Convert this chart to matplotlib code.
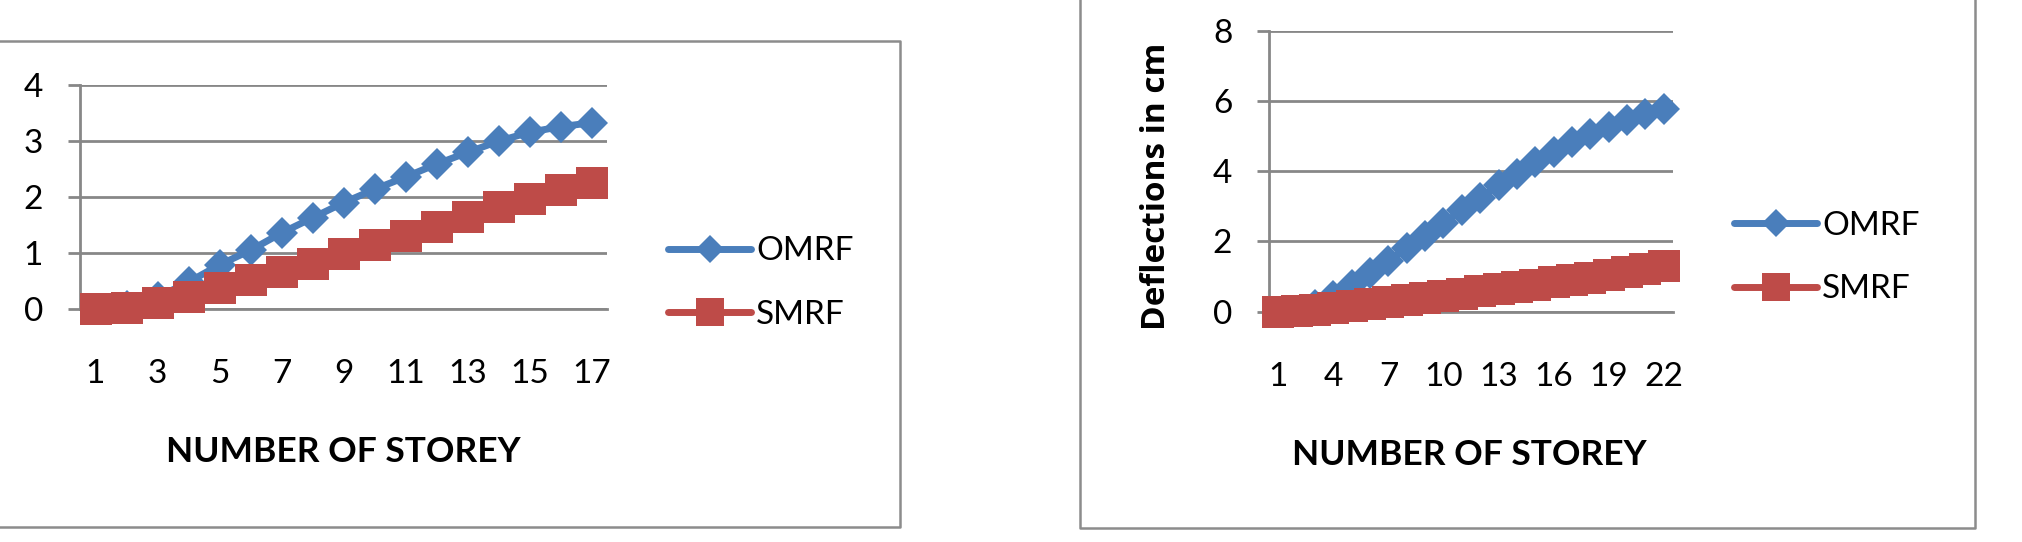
import matplotlib
matplotlib.use("Agg")
import matplotlib.pyplot as plt
from matplotlib.lines import Line2D

# data
storey_a = list(range(1, 18))
omrf_a = [0.0, 0.05, 0.21, 0.48, 0.79, 1.05, 1.36, 1.63, 1.90, 2.14, 2.36, 2.59, 2.80, 3.00, 3.16, 3.26, 3.33]
smrf_a = [0.0, 0.02, 0.10, 0.22, 0.37, 0.52, 0.66, 0.80, 0.98, 1.14, 1.31, 1.47, 1.65, 1.83, 1.97, 2.12, 2.26]
ticks_a = [1, 3, 5, 7, 9, 11, 13, 15, 17]

storey_b = list(range(1, 23))
omrf_b = [0.0, 0.03, 0.18, 0.45, 0.76, 1.10, 1.45, 1.80, 2.15, 2.52, 2.88, 3.24, 3.60, 3.93, 4.25, 4.55, 4.82, 5.06, 5.27, 5.46, 5.62, 5.77]
smrf_b = [0.0, 0.01, 0.05, 0.10, 0.16, 0.21, 0.26, 0.32, 0.38, 0.45, 0.51, 0.58, 0.64, 0.70, 0.77, 0.83, 0.90, 0.97, 1.05, 1.13, 1.20, 1.29]
ticks_b = [1, 4, 7, 10, 13, 16, 19, 22]

series_names = ["OMRF", "SMRF"]
BLUE = "#4A7EBB"
RED = "#BE4B48"
GRID = "#878787"

plt.rcParams['font.family'] = ['Lato', 'DejaVu Sans']

W, H = 2022, 542
fig = plt.figure(figsize=(W / 100, H / 100), dpi=100)


def fx(px):
    return px / W


def fy(py):
    return 1 - py / H


def draw(ax, x, omrf, smrf, ticks, ymax, ystep):
    ax.plot(x, omrf, color=BLUE, lw=5, marker='D', ms=16, mew=0,
            solid_capstyle='round', clip_on=False, zorder=3, label=series_names[0])
    ax.plot(x, smrf, color=RED, lw=5, marker='s', ms=22.5, mew=0,
            solid_capstyle='round', clip_on=False, zorder=4, label=series_names[1])
    ax.set_xlim(0.5, len(x) + 0.5)
    ax.set_ylim(0, ymax)
    ax.set_yticks(range(0, ymax + 1, ystep))
    ax.set_xticks(ticks)
    ax.set_xticklabels([str(t) for t in ticks])
    for s in ['top', 'right']:
        ax.spines[s].set_visible(False)
    for s in ['left', 'bottom']:
        ax.spines[s].set_color(GRID)
        ax.spines[s].set_linewidth(2)
    ax.yaxis.grid(True, color=GRID, lw=2)
    ax.set_axisbelow(True)
    ax.tick_params(axis='y', length=8.6, width=2, color=GRID, pad=18, labelsize=24)
    ax.tick_params(axis='x', length=0, pad=36, labelsize=24)


# left chart
ax1 = fig.add_axes([fx(80), fy(309), fx(607 - 80), (309 - 85.3) / H])
draw(ax1, storey_a, omrf_a, smrf_a, ticks_a, 4, 1)
ax1.legend(loc='center left', bbox_to_anchor=(fx(668), fy(283)),
           bbox_transform=fig.transFigure, frameon=False, fontsize=24,
           handlelength=2.5, handletextpad=0.15, labelspacing=1.0,
           borderpad=0, borderaxespad=0, markerscale=0.87)
fig.text(fx(343), fy(452.5), "NUMBER OF STOREY", ha='center', va='center',
         fontsize=25.5, fontweight='bold')

# right chart
ax2 = fig.add_axes([fx(1269.3), fy(311.6), fx(1672.7 - 1269.3), (311.6 - 30.7) / H])
draw(ax2, storey_b, omrf_b, smrf_b, ticks_b, 8, 2)
ax2.legend(loc='center left', bbox_to_anchor=(fx(1734), fy(257.5)),
           bbox_transform=fig.transFigure, frameon=False, fontsize=24,
           handlelength=2.5, handletextpad=0.15, labelspacing=1.0,
           borderpad=0, borderaxespad=0, markerscale=0.87)
fig.text(fx(1469.5), fy(455), "NUMBER OF STOREY", ha='center', va='center',
         fontsize=25.5, fontweight='bold')
fig.text(fx(1156.7), fy(186), "Deflections in cm", ha='center', va='center',
         rotation=90, fontsize=24, fontweight='bold', family=['Open Sans', 'DejaVu Sans'])

# chart frames
frame_kw = dict(color="#8C8C8C", lw=1.8, transform=fig.transFigure)
fig.add_artist(Line2D([fx(-5), fx(900), fx(900), fx(-5)],
                      [fy(41), fy(41), fy(527), fy(527)], **frame_kw))
fig.add_artist(Line2D([fx(1080), fx(1080), fx(1975), fx(1975)],
                      [fy(-5), fy(528), fy(528), fy(-5)], **frame_kw))

fig.savefig("out.png", dpi=100)
